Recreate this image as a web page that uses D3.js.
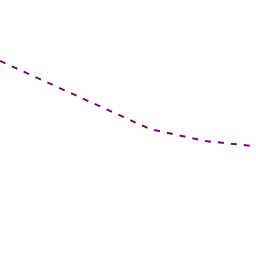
<!DOCTYPE html>
<html>
<head>
<meta charset="utf-8">
<script src="https://cdn.jsdelivr.net/npm/d3@7"></script>
<style>
body { margin: 0; background: #fff; }
svg { display: block; }
</style>
</head>
<body>
<div id="chart"></div>
<script>
var w = 256, h = 256;

// series values
var xValues = [0, 5.95, 8.15, 10];
var yValues = [7.62, 4.96, 4.49, 4.30];

var svg = d3.select('#chart')
  .append("svg")
  .attr("width", w)
  .attr("height", h);

var x = d3.scaleLinear().domain([0, 10]).range([0, 252]);
var y = d3.scaleLinear().domain([0, 10]).range([256, 0]);

var pts = xValues.map(function(d, i){ return [d, yValues[i]]; });

var line = d3.line()
  .x(function(d){ return x(d[0]); })
  .y(function(d){ return y(d[1]); });

svg.append("path")
  .datum(pts)
  .attr("d", line)
  .attr("fill", "none")
  .attr("stroke", "#800080")
  .attr("stroke-width", 2)
  .attr("stroke-dasharray", "6,7");
</script>
</body>
</html>
